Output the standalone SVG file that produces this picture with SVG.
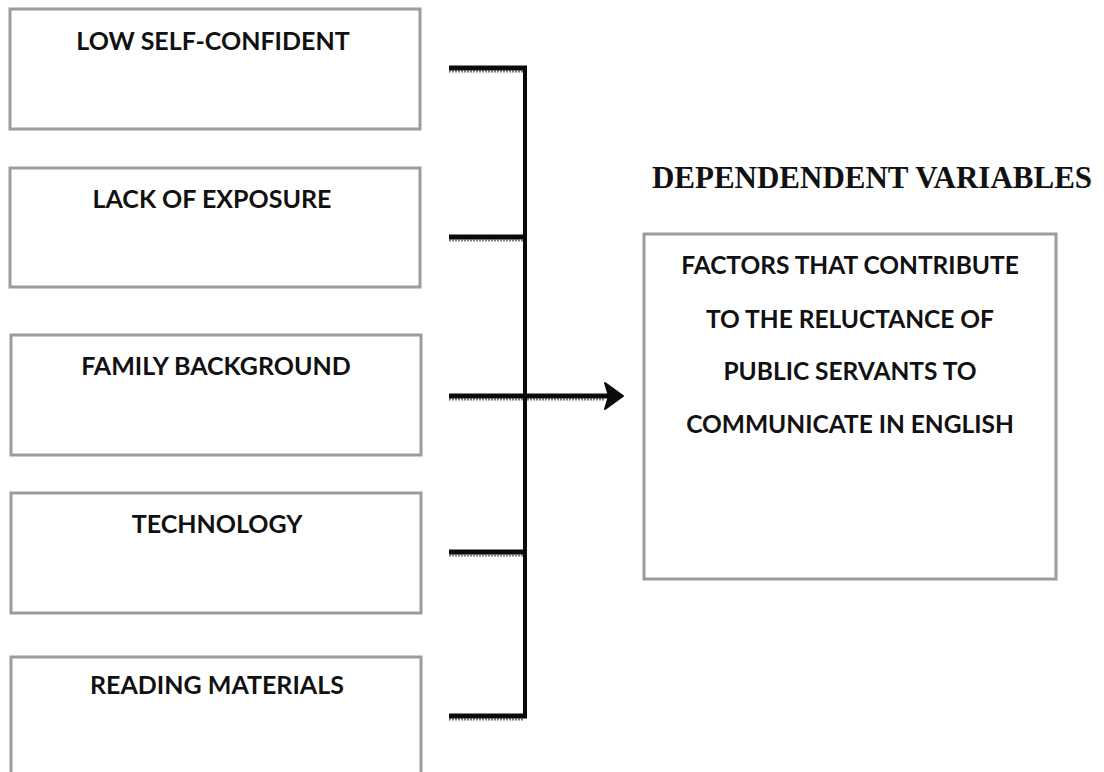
<svg xmlns="http://www.w3.org/2000/svg" width="1104" height="772" viewBox="0 0 1104 772">
<style>
.box{fill:#fff;stroke:#9d9aa3;stroke-width:3}
.lbl{font-family:Lato,"Open Sans","Liberation Sans",sans-serif;font-weight:bold;font-size:25px;fill:#111;text-anchor:middle}
.rl{font-size:24.5px}
.conn{stroke:#0a0a0a;fill:none}
.shadow{stroke:#7d7d85;stroke-width:2;stroke-dasharray:2 1;fill:none}
.title{font-family:"Liberation Serif","Times New Roman",serif;font-weight:bold;font-size:31px;fill:#111;text-anchor:middle}
</style>
<rect width="1104" height="772" fill="#fff"/>
<g id="node-low-self-confident">
<rect class="box" x="10" y="9" width="410" height="120"/>
<text class="lbl" x="213" y="50">LOW SELF-CONFIDENT</text>
</g>
<g id="node-lack-of-exposure">
<rect class="box" x="10" y="168" width="410" height="119"/>
<text class="lbl" x="212" y="208">LACK OF EXPOSURE</text>
</g>
<g id="node-family-background">
<rect class="box" x="11" y="335" width="410" height="120"/>
<text class="lbl" x="216" y="375">FAMILY BACKGROUND</text>
</g>
<g id="node-technology">
<rect class="box" x="11" y="493" width="410" height="120"/>
<text class="lbl" x="217" y="533">TECHNOLOGY</text>
</g>
<g id="node-reading-materials">
<rect class="box" x="11" y="657" width="410" height="125"/>
<text class="lbl" x="217" y="694">READING MATERIALS</text>
</g>
<g id="title-dependent">
<text class="title" x="872" y="188">DEPENDENDENT VARIABLES</text>
</g>
<g id="node-factors">
<rect class="box" x="644" y="234" width="412" height="345"/>
<text class="lbl rl" x="850" y="274">FACTORS THAT CONTRIBUTE</text>
<text class="lbl rl" x="850" y="328">TO THE RELUCTANCE OF</text>
<text class="lbl rl" x="850" y="380">PUBLIC SERVANTS TO</text>
<text class="lbl rl" x="850" y="433">COMMUNICATE IN ENGLISH</text>
</g>
<g id="connectors">
<path class="shadow" d="M449 71.5H523M449 240.5H523M449 399.5H605M449 555.5H523M449 719.5H523"/>
<path class="conn" stroke-width="4" d="M525 66V718"/>
<path class="conn" stroke-width="5" d="M449 68H527M449 237H525M449 396H610M449 552H525M449 716H527"/>
<path d="M623 396L605 383L609 396L605 409Z" fill="#0a0a0a" stroke="#0a0a0a" stroke-width="2" stroke-linejoin="round"/>
</g>
</svg>
